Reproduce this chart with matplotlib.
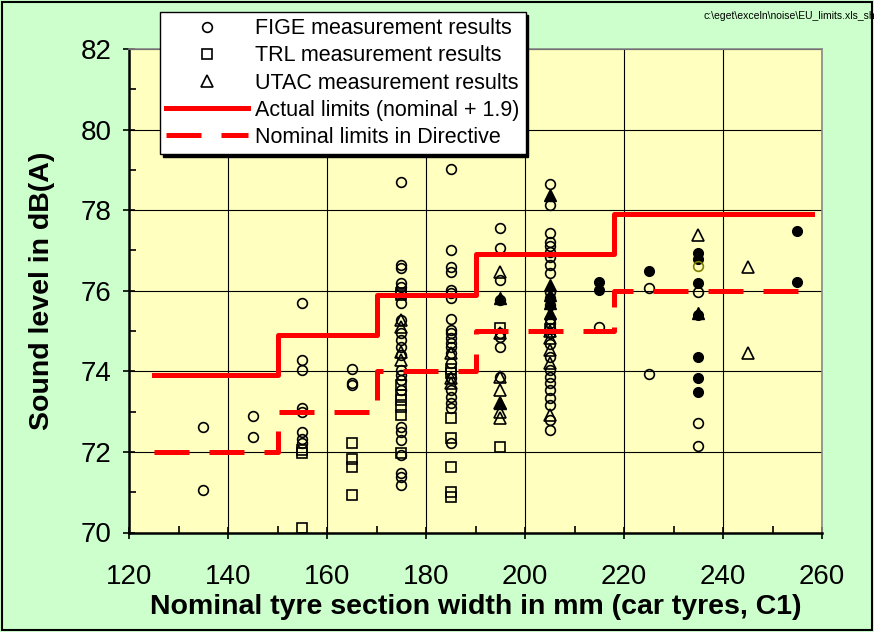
import numpy as np
import matplotlib
matplotlib.use("Agg")
import matplotlib.pyplot as plt
from matplotlib.patches import Rectangle

plt.rcParams['font.family'] = ['Liberation Sans', 'DejaVu Sans']

# limit curves (nominal limits, actual = nominal + 1.9)
edges = [125, 150, 170, 190, 218, 258]
nominal = [72, 73, 74, 75, 76]
offset = 1.9

# FIGE measurement results (open circles)
fige_x = [135, 135, 145, 145,
          155, 155, 155, 155, 155, 155, 155, 155,
          165, 165, 165,
          175, 175, 175, 175, 175, 175, 175, 175, 175, 175, 175, 175,
          175, 175, 175, 175, 175, 175, 175, 175, 175, 175,
          185, 185, 185, 185, 185, 185, 185, 185, 185, 185, 185,
          185, 185, 185, 185, 185, 185, 185, 185, 185, 185,
          195, 195, 195, 195, 195, 195, 195, 195,
          205, 205, 205, 205, 205, 205, 205, 205, 205, 205, 205, 205, 205,
          205, 205, 205, 205, 205, 205, 205, 205, 205, 205, 205, 205, 205,
          215, 225, 225, 235, 235, 235]
fige_y = [72.63, 71.05, 72.89, 72.36,
          75.70, 74.28, 74.03, 73.08, 73.00, 72.50, 72.31, 72.21,
          74.05, 73.70, 73.67,
          78.70, 76.64, 76.56, 76.20, 76.10, 75.69, 75.27, 74.94, 74.78, 74.61, 74.40, 74.03,
          73.91, 73.78, 73.54, 72.63, 72.50, 72.30, 71.92, 71.47, 71.38, 71.18,
          79.01, 77.01, 76.60, 76.47, 76.02, 75.94, 75.81, 75.31, 75.02, 74.94, 74.82,
          74.71, 74.61, 74.45, 74.20, 73.83, 73.54, 73.37, 73.21, 73.08, 72.23,
          77.55, 77.05, 76.27, 75.77, 74.94, 74.86, 74.61, 73.87,
          78.65, 78.14, 77.44, 77.22, 77.11, 76.97, 76.83, 76.64, 76.45, 75.97, 75.81, 75.65, 75.31,
          75.19, 75.07, 74.94, 74.69, 74.36, 74.03, 73.87, 73.70, 73.54, 73.33, 73.16, 72.79, 72.54,
          75.11, 76.06, 73.93, 75.97, 72.71, 72.15]

# TRL measurement results (open squares)
trl_x = [155, 155, 155, 165, 165, 165, 165,
         175, 175, 175, 175, 175, 175, 175, 175,
         185, 185, 185, 185, 185, 185, 185,
         195, 195, 205]
trl_y = [72.05, 71.98, 70.10, 72.23, 71.82, 71.62, 70.93,
         75.95, 75.89, 73.66, 73.41, 73.29, 73.12, 72.92, 71.97,
         74.07, 73.95, 72.83, 72.34, 71.63, 71.01, 70.89,
         75.07, 72.13, 75.05]

# UTAC measurement results (open triangles)
utac_x = [175, 175, 175, 175, 185, 185, 185,
          195, 195, 195, 195, 195, 195, 195,
          205, 205, 205, 205, 205, 235, 245, 245]
utac_y = [75.27, 75.11, 74.49, 74.28, 73.83, 73.70, 74.45,
          76.47, 74.94, 73.87, 73.54, 73.21, 73.00, 72.83,
          74.82, 74.53, 74.20, 72.92, 75.00, 77.38, 76.60, 74.46]

# other results, filled markers (not in legend)
fill_circ_x = [215, 215, 225, 235, 235, 235, 235, 235, 235, 235, 255, 255]
fill_circ_y = [76.22, 76.02, 76.50, 76.93, 76.79, 76.20, 75.40, 74.36, 73.83, 73.49, 77.49, 76.22]
fill_tri_x = [195, 195, 205, 205, 205, 205, 205, 235]
fill_tri_y = [75.81, 73.21, 78.37, 76.14, 75.90, 75.70, 75.44, 75.45]
olive_x = [235]
olive_y = [76.62]

fig = plt.figure(figsize=(8.74, 6.32), dpi=100)
fig.patch.set_facecolor('#CCFFCC')
fig.patches.append(Rectangle((0.002, 0.003), 0.996, 0.994, transform=fig.transFigure,
                             fill=False, edgecolor='black', linewidth=1.5))
ax = fig.add_axes([129/874, 1-532.5/632, (822-129)/874, (532.5-49)/632])
ax.set_facecolor('#FFFFC0')

ax.set_xlim(120, 260)
ax.set_ylim(70, 82)
ax.set_xticks(np.arange(120, 261, 20))
ax.set_yticks(np.arange(70, 83, 2))
ax.set_xticks(np.arange(130, 260, 20), minor=True)
ax.set_yticks(np.arange(71, 82, 2), minor=True)
ax.grid(True, which='major', color='black', linewidth=0.8)
ax.tick_params(which='major', direction='inout', length=9, width=1.2, labelsize=20)
ax.tick_params(axis='x', which='major', pad=18)
ax.tick_params(axis='y', which='major', pad=8)
ax.tick_params(which='minor', direction='in', length=5, width=1.2)
for s in ['left', 'bottom']:
    ax.spines[s].set_linewidth(1.8)
for s in ['top', 'right']:
    ax.spines[s].set_color('#888888')
    ax.spines[s].set_linewidth(1.2)

ms = 7
ax.plot(fige_x, fige_y, 'o', ms=ms, mfc='none', mec='black', mew=1.2, label='FIGE measurement results', zorder=3)
ax.plot(trl_x, trl_y, 's', ms=ms, mfc='none', mec='black', mew=1.2, label='TRL measurement results', zorder=3)
ax.plot(utac_x, utac_y, '^', ms=ms+1, mfc='none', mec='black', mew=1.2, label='UTAC measurement results', zorder=3)
ax.plot(fill_circ_x, fill_circ_y, 'o', ms=ms, color='black', zorder=3)
ax.plot(fill_tri_x, fill_tri_y, '^', ms=ms+1, color='black', zorder=3)
ax.plot(olive_x, olive_y, 'o', ms=ms, mfc='none', mec='#808000', mew=1.2, zorder=3)

actual = [v + offset for v in nominal]
ax.plot(edges, actual + [actual[-1]], drawstyle='steps-post', color='red', lw=3.6,
        label='Actual limits (nominal + 1.9)', zorder=4)
ax.plot(edges, nominal + [nominal[-1]], drawstyle='steps-post', color='red', lw=3.6,
        dashes=(7, 4), label='Nominal limits in Directive', zorder=4)

ax.set_ylabel('Sound level in dB(A)', fontsize=20.5, fontweight='bold', va='center')
ax.set_xlabel('Nominal tyre section width in mm (car tyres, C1)', fontsize=20.5, fontweight='bold', va='center')
ax.yaxis.set_label_coords((42-129)/693, 0.5)
ax.xaxis.set_label_coords(0.5, (532.5-607)/483.5)

leg = fig.legend(loc='upper left', bbox_to_anchor=(160/874, 1-12/632), borderaxespad=0,
                 fontsize=15.5, numpoints=1, handlelength=3.8, handletextpad=0.3,
                 labelspacing=0.28, borderpad=0.3, fancybox=False, edgecolor='black',
                 framealpha=1, shadow={'color': 'black', 'alpha': 1})
leg.get_frame().set_linewidth(1.0)

fig.text(703/874, 1-16/632, 'c:\\eget\\exceln\\noise\\EU_limits.xls_sh', fontsize=7.5, va='center')

fig.savefig('out.png', dpi=100, facecolor=fig.get_facecolor())
plt.close()
